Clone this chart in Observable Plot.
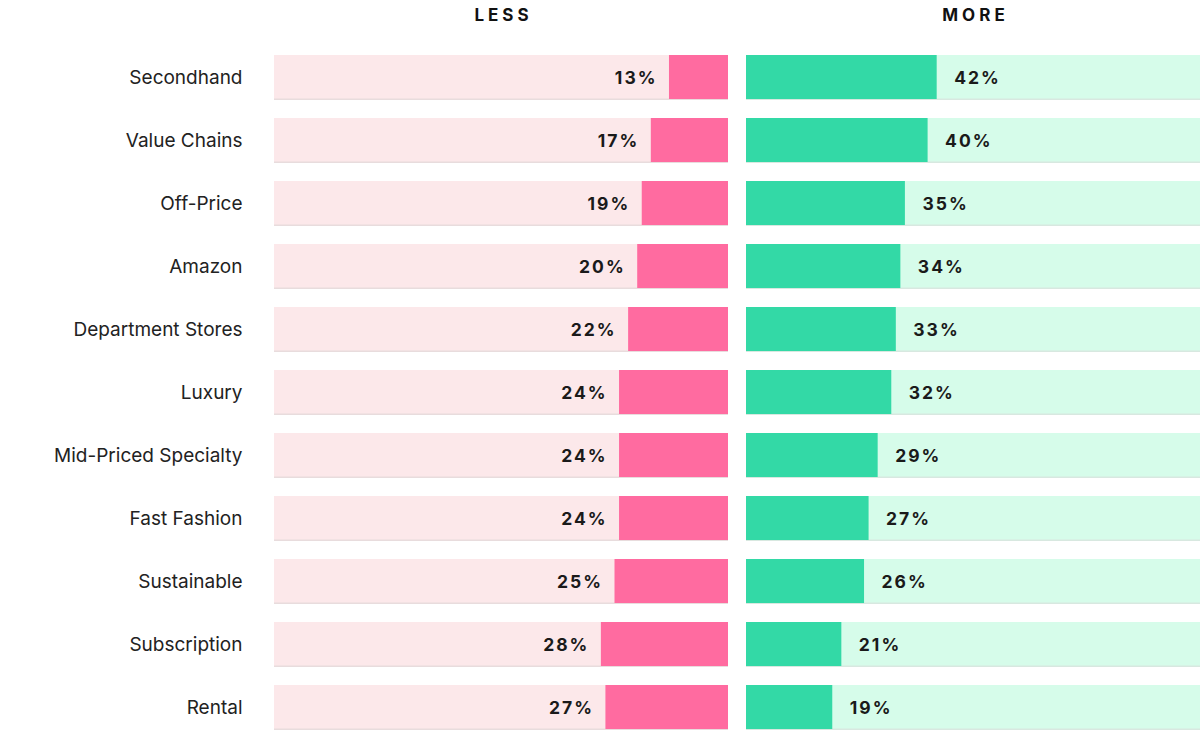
<!DOCTYPE html>
<html>
<head>
<meta charset="utf-8">
<script src="https://cdn.jsdelivr.net/npm/d3@7"></script>
<script src="https://cdn.jsdelivr.net/npm/@observablehq/plot@0.6"></script>
<style>
  html, body { margin: 0; padding: 0; background: #fff; }
  #wrap { display: flex; flex-direction: row; width: 1200px; height: 731px; }
  #wrap svg { font-family: Inter, "Noto Sans", sans-serif; }
  g[aria-label="text"] text { letter-spacing: 2px; }
</style>
</head>
<body>
<div id="wrap"></div>
<script>
const categories = ["Secondhand","Value Chains","Off-Price","Amazon","Department Stores","Luxury","Mid-Priced Specialty","Fast Fashion","Sustainable","Subscription","Rental"];
const less = [13,17,19,20,22,24,24,24,25,28,27];
const more = [42,40,35,34,33,32,29,27,26,21,19];
const headers = ["LESS","MORE"];

const rows = categories.map((c, i) => ({cat: c, less: less[i], more: more[i]}));

const yScale = {domain: categories, paddingInner: 18/63, paddingOuter: 0};

const left = Plot.plot({
  width: 728, height: 731,
  marginLeft: 274, marginRight: 0, marginTop: 55, marginBottom: 1,
  x: {domain: [0, 100], reverse: true, axis: null},
  y: yScale,
  marks: [
    Plot.barX(rows, {x1: 0, x2: 100, y: "cat", fill: "#e8dcdd"}),
    Plot.barX(rows, {x1: 0, x2: 100, y: "cat", fill: "#fce8ea", insetBottom: 1.5}),
    Plot.barX(rows, {x1: 0, x2: "less", y: "cat", fill: "#ff6ba0", insetBottom: 1}),
    Plot.text(rows, {x: "less", y: "cat", text: d => d.less + "%", textAnchor: "end", dx: -12, fontSize: 17.5, fontWeight: 700, fill: "#1a1a1a"}),
    Plot.text([headers[0]], {frameAnchor: "top", dy: -47, dx: 2, fontSize: 17, fontWeight: 700, fill: "#111"}),
    Plot.axisY({tickSize: 0, tickPadding: 32, fontSize: 19, label: null, color: "#222"})
  ]
});

const right = Plot.plot({
  width: 472, height: 731,
  marginLeft: 18, marginRight: 0, marginTop: 55, marginBottom: 1,
  x: {domain: [0, 100], axis: null},
  y: {...yScale, axis: null},
  marks: [
    Plot.barX(rows, {x1: 0, x2: 100, y: "cat", fill: "#d8e8e0"}),
    Plot.barX(rows, {x1: 0, x2: 100, y: "cat", fill: "#d6fcea", insetBottom: 1.5}),
    Plot.barX(rows, {x1: 0, x2: "more", y: "cat", fill: "#33d9a6", insetBottom: 1}),
    Plot.text(rows, {x: "more", y: "cat", text: d => d.more + "%", textAnchor: "start", dx: 17, fontSize: 17.5, fontWeight: 700, fill: "#1a1a1a"}),
    Plot.text([headers[1]], {frameAnchor: "top", dy: -47, dx: 2, fontSize: 17, fontWeight: 700, fill: "#111"})
  ]
});

document.getElementById("wrap").append(left, right);
// wider tracking for the headers
d3.selectAll("#wrap svg").each(function() {
  d3.select(this).selectAll('g[aria-label="text"]').filter(function() {
    return d3.select(this).selectAll("text").size() === 1;
  }).selectAll("text").style("letter-spacing", "4px");
});
</script>
</body>
</html>
